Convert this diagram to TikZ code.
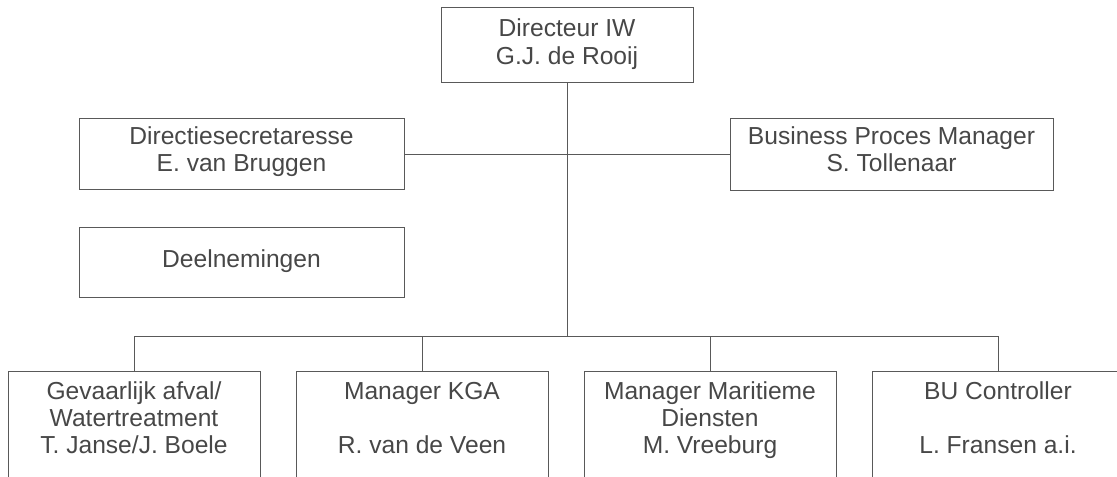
\documentclass[tikz,border=0pt]{standalone}
\usepackage{fontspec}
\setmainfont{Liberation Sans}
\definecolor{linec}{gray}{0.35}
\definecolor{textc}{gray}{0.28}
\begin{document}
\begin{tikzpicture}[x=1bp,y=-1bp,
  box/.style={draw=linec, line width=0.9bp, inner sep=0pt, rectangle},
  lbl/.style={anchor=base, inner sep=0pt, text=textc, font=\fontsize{24.6bp}{27bp}\selectfont},
  conn/.style={draw=linec, line width=0.9bp}]
\useasboundingbox (0,0) rectangle (1117,477);
\clip (0,0) rectangle (1117,477);
% boxes
\node[box, minimum width=252bp, minimum height=75bp] (dir) at (567,44.5) {};
\node[box, minimum width=325bp, minimum height=71bp] (sec) at (241.5,154) {};
\node[box, minimum width=325bp, minimum height=70bp] (deel) at (241.5,262) {};
\node[box, minimum width=323bp, minimum height=72bp] (bpm) at (891.5,154) {};
\node[box, minimum width=252bp, minimum height=140bp] (g1) at (134,441) {};
\node[box, minimum width=252bp, minimum height=140bp] (g2) at (422,441) {};
\node[box, minimum width=252bp, minimum height=140bp] (g3) at (710,441) {};
\node[box, minimum width=252bp, minimum height=140bp] (g4) at (998,441) {};
% texts
\node[lbl] (dirA) at (567,37) {Directeur IW};
\node[lbl] (dirB) at (567,65) {G.J. de Rooij};
\node[lbl] (secA) at (241.5,145) {Directiesecretaresse};
\node[lbl] (secB) at (241.5,172) {E. van Bruggen};
\node[lbl] (deelA) at (241.5,268) {Deelnemingen};
\node[lbl] (bpmA) at (891.5,145) {Business Proces Manager};
\node[lbl] (bpmB) at (891.5,172) {S. Tollenaar};
\node[lbl] (g1A) at (134,399) {Gevaarlijk afval/};
\node[lbl] (g1B) at (134,426) {Watertreatment};
\node[lbl] (g1C) at (134,453) {T. Janse/J. Boele};
\node[lbl] (g2A) at (422,399) {Manager KGA};
\node[lbl] (g2C) at (422,453) {R. van de Veen};
\node[lbl] (g3A) at (710,399) {Manager Maritieme};
\node[lbl] (g3B) at (710,426) {Diensten};
\node[lbl] (g3C) at (710,453) {M. Vreeburg};
\node[lbl] (g4A) at (998,399) {BU Controller};
\node[lbl] (g4C) at (998,453) {L. Fransen a.i.};
% connectors
\coordinate (bus) at (567,336);
\draw[conn] (dir.south) -- (bus);
\draw[conn] (sec.east) -- (bpm.west);
\foreach \b in {g1,g2,g3,g4} {\draw[conn] (\b.north) |- (bus);}
\end{tikzpicture}
\end{document}
